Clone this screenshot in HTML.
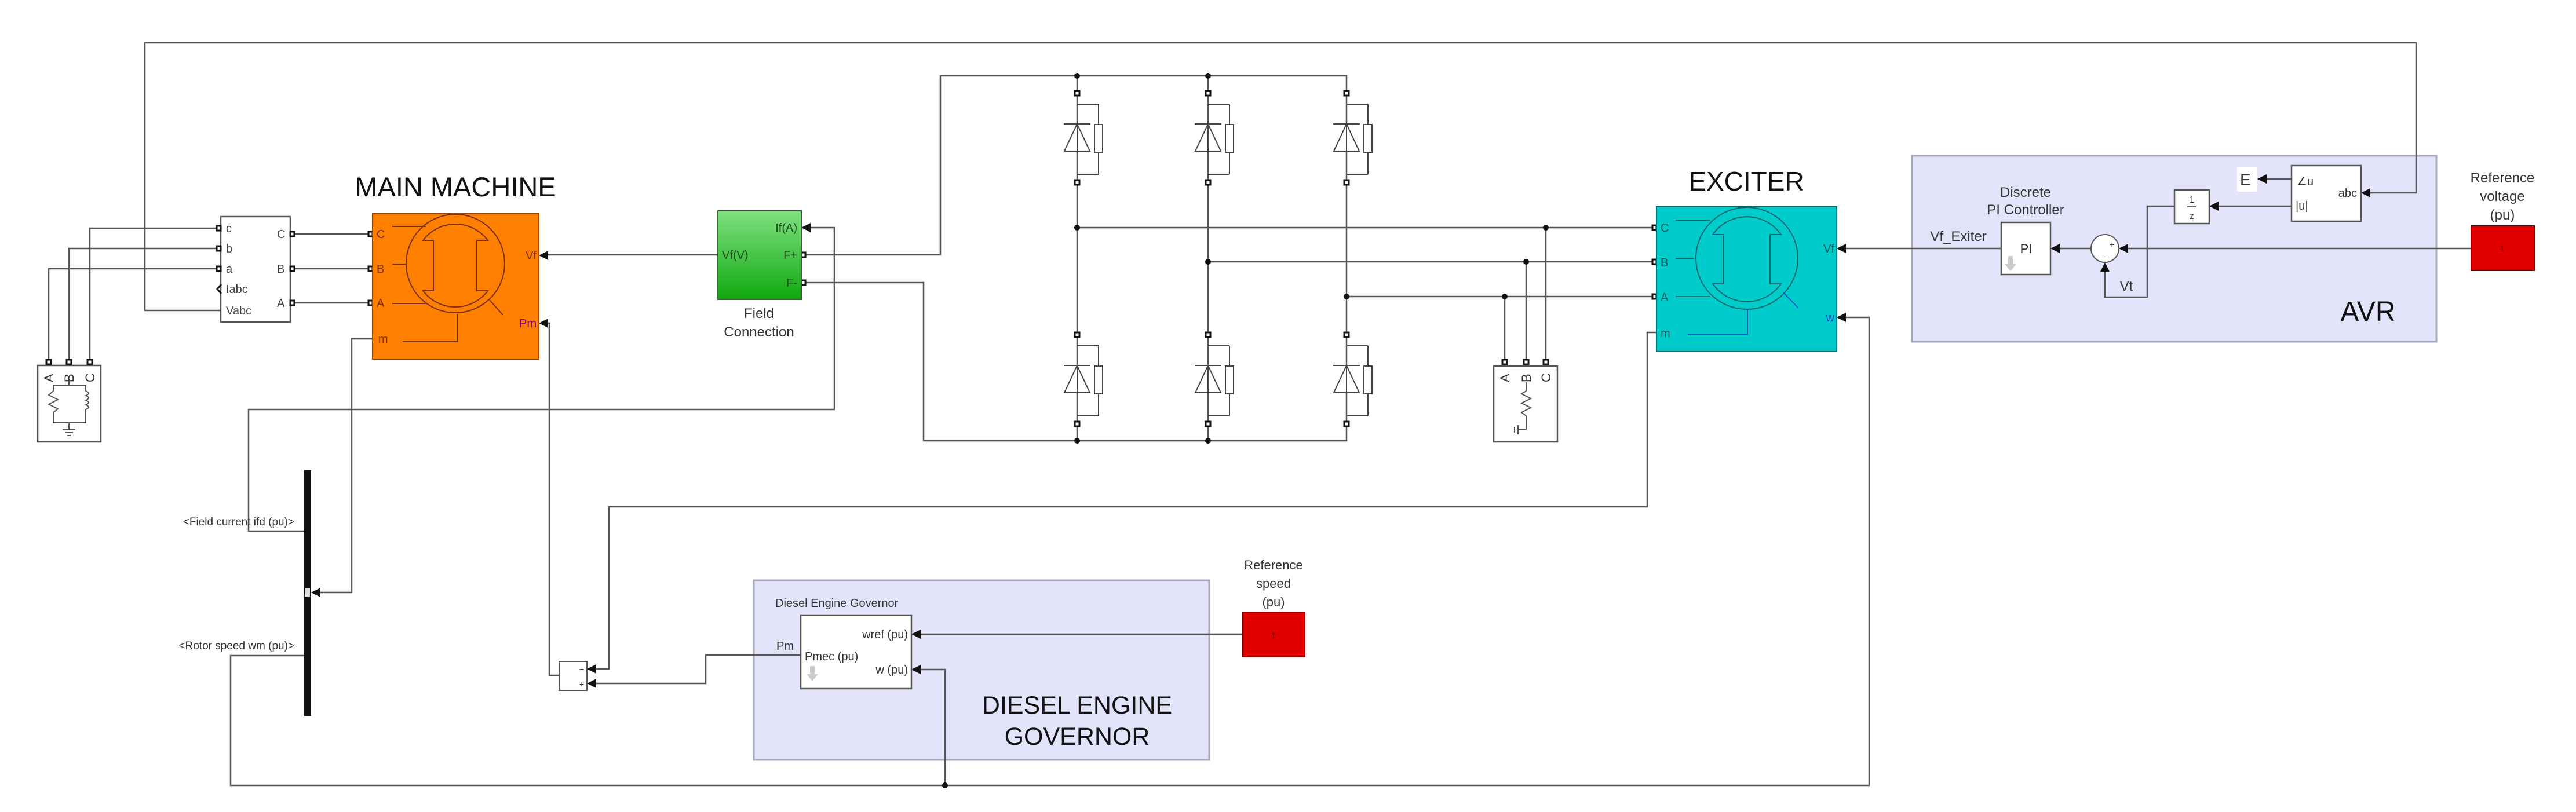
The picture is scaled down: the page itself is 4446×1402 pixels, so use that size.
<!DOCTYPE html>
<html><head><meta charset="utf-8"><style>
html,body{margin:0;padding:0;background:#fff;}
svg{display:block;font-family:"Liberation Sans",Arial,sans-serif;}
</style></head><body>
<svg width="4446" height="1402" viewBox="0 0 4446 1402" xmlns="http://www.w3.org/2000/svg">
<defs>
<marker id="ar" markerWidth="10" markerHeight="10" refX="9" refY="5" orient="auto" markerUnits="userSpaceOnUse"><path d="M0,0 L0,0"/></marker>
<g id="thy">
 <line x1="0" y1="19" x2="37" y2="19" stroke="#444" stroke-width="2"/>
 <line x1="37" y1="19" x2="37" y2="54" stroke="#444" stroke-width="2"/>
 <rect x="30" y="54" width="14" height="48" fill="#fff" stroke="#444" stroke-width="2"/>
 <line x1="37" y1="102" x2="37" y2="140" stroke="#444" stroke-width="2"/>
 <line x1="0" y1="140" x2="37" y2="140" stroke="#444" stroke-width="2"/>
 <polygon points="0,53 -22,100 22,100" fill="#fff" stroke="#444" stroke-width="2"/>
 <line x1="-23" y1="53" x2="23" y2="53" stroke="#444" stroke-width="2"/>
 <line x1="0" y1="53" x2="0" y2="100" stroke="#444" stroke-width="2"/>
 <rect x="-4" y="-4" width="8" height="8" fill="#fff" stroke="#111" stroke-width="3"/>
 <rect x="-4" y="150" width="8" height="8" fill="#fff" stroke="#111" stroke-width="3"/>
</g>
</defs>
<rect width="4446" height="1402" fill="#fff"/>

<!-- subsystem backgrounds -->
<rect x="3300" y="269" width="905" height="321" fill="#e3e3fa" stroke="#a8a8b8" stroke-width="3"/>
<rect x="1301" y="1002" width="786" height="310" fill="#e3e3fa" stroke="#a8a8b8" stroke-width="3"/>

<g fill="none" stroke="#555" stroke-width="2.5">
<!-- top wire -->
<polyline points="381,536 250,536 250,74 4170,74 4170,333 4080,333"/>
<!-- load to measurement -->
<polyline points="155,625 155,394 381,394"/>
<polyline points="119,625 119,429 381,429"/>
<polyline points="84,625 84,464 381,464"/>
<line x1="501" y1="404" x2="643" y2="404"/>
<line x1="501" y1="464" x2="643" y2="464"/>
<line x1="501" y1="523" x2="643" y2="523"/>
<!-- Vf -->
<line x1="1239" y1="440" x2="935" y2="440"/>
<!-- If -->
<polyline points="1388,393 1440,393 1440,707 429,707 429,917 525,917"/>
<!-- m main -->
<polyline points="643,585 607,585 607,1023 545,1023"/>
<!-- Pm -->
<polyline points="935,558 948,558 948,1166 965,1166"/>
<!-- rotor speed bottom -->
<polyline points="525,1132 398,1132 398,1356 3226,1356 3226,548 3175,548"/>
<!-- exciter m to sum - -->
<polyline points="2859,574 2843,574 2843,875 1051,875 1051,1155 1020,1155"/>
<!-- governor to sum + -->
<polyline points="1382,1131 1218,1131 1218,1180 1020,1180"/>
<!-- w governor -->
<polyline points="1631,1356 1631,1156 1580,1156"/>
<!-- ref speed -->
<line x1="2145" y1="1095" x2="1580" y2="1095"/>
<!-- F+ F- -->
<polyline points="1388,440 1623,440 1623,131 2324,131 2324,761 1594,761 1594,488 1388,488"/>
<line x1="1859" y1="131" x2="1859" y2="761"/>
<line x1="2085" y1="131" x2="2085" y2="761"/>
<!-- three-phase lines -->
<line x1="1859" y1="393" x2="2859" y2="393"/>
<line x1="2085" y1="452" x2="2859" y2="452"/>
<line x1="2324" y1="512" x2="2859" y2="512"/>
<line x1="2597" y1="512" x2="2597" y2="625"/>
<line x1="2634" y1="452" x2="2634" y2="625"/>
<line x1="2668" y1="393" x2="2668" y2="625"/>
<!-- AVR -->
<line x1="3454" y1="429" x2="3175" y2="429"/>
<line x1="3609" y1="429" x2="3545" y2="429"/>
<line x1="4265" y1="429" x2="3662" y2="429"/>
<polyline points="3753,356 3706,356 3706,513 3633,513 3633,460"/>
<line x1="3955" y1="356" x2="3820" y2="356"/>
<line x1="3955" y1="309" x2="3902" y2="309"/>
</g>

<!-- arrows -->
<g fill="#111">
<polygon points="930,441 946,433 946,449"/>
<polygon points="930,558 946,550 946,566"/>
<polygon points="1383,393 1399,385 1399,401"/>
<polygon points="537,1023 553,1015 553,1031"/>
<polygon points="1013,1155 1029,1147 1029,1163"/>
<polygon points="1013,1180 1029,1172 1029,1188"/>
<polygon points="1573,1095 1589,1087 1589,1103"/>
<polygon points="1573,1156 1589,1148 1589,1164"/>
<polygon points="3170,429 3186,421 3186,437"/>
<polygon points="3170,548 3186,540 3186,556"/>
<polygon points="3539,429 3555,421 3555,437"/>
<polygon points="3657,429 3673,421 3673,437"/>
<polygon points="3633,453 3625,469 3641,469"/>
<polygon points="3813,356 3829,348 3829,364"/>
<polygon points="3896,309 3912,301 3912,317"/>
<polygon points="4075,333 4091,325 4091,341"/>
</g>
<!-- dots -->
<g fill="#111">
<circle cx="1859" cy="131" r="5"/><circle cx="2085" cy="131" r="5"/>
<circle cx="1859" cy="761" r="5"/><circle cx="2085" cy="761" r="5"/>
<circle cx="1859" cy="393" r="5"/><circle cx="2085" cy="452" r="5"/><circle cx="2324" cy="512" r="5"/>
<circle cx="2597" cy="512" r="5"/><circle cx="2634" cy="452" r="5"/><circle cx="2668" cy="393" r="5"/>
<circle cx="1631" cy="1356" r="5"/>
</g>

<!-- thyristors -->
<use href="#thy" x="1859" y="161"/><use href="#thy" x="2085" y="161"/><use href="#thy" x="2324" y="161"/>
<use href="#thy" x="1859" y="578"/><use href="#thy" x="2085" y="578"/><use href="#thy" x="2324" y="578"/>

<!-- left load -->
<rect x="65" y="631" width="109" height="132" fill="#fff" stroke="#555" stroke-width="2.5"/>
<g fill="none" stroke="#555" stroke-width="2">
<polyline points="119,655 119,665 92,665 92,675 84,682 100,690 84,698 100,706 92,712 92,730 148,730 148,712"/>
<path d="M148,665 L148,675 q10,4 0,8 q10,4 0,8 q10,4 0,8 q10,4 0,8 L148,712"/>
<line x1="119" y1="665" x2="148" y2="665"/>
<line x1="119" y1="730" x2="119" y2="742"/><line x1="108" y1="742" x2="130" y2="742"/><line x1="112" y1="747" x2="126" y2="747"/><line x1="116" y1="752" x2="122" y2="752"/>
</g>
<g font-size="22" fill="#333">
<text transform="translate(92,660) rotate(-90)">A</text>
<text transform="translate(127,660) rotate(-90)">B</text>
<text transform="translate(163,660) rotate(-90)">C</text>
</g>
<g fill="#fff" stroke="#111" stroke-width="3">
<rect x="80" y="621" width="8" height="8"/><rect x="115" y="621" width="8" height="8"/><rect x="151" y="621" width="8" height="8"/>
</g>

<!-- right load -->
<rect x="2578" y="632" width="110" height="131" fill="#fff" stroke="#555" stroke-width="2.5"/>
<g fill="none" stroke="#555" stroke-width="2">
<polyline points="2634,660 2634,675 2626,680 2642,688 2626,696 2642,704 2626,712 2634,718 2634,742"/>
<line x1="2620" y1="742" x2="2634" y2="742"/><line x1="2620" y1="734" x2="2620" y2="750"/><line x1="2614" y1="737" x2="2614" y2="747"/>
</g>
<g font-size="22" fill="#333">
<text transform="translate(2605,660) rotate(-90)">A</text>
<text transform="translate(2642,660) rotate(-90)">B</text>
<text transform="translate(2676,660) rotate(-90)">C</text>
</g>
<g fill="#fff" stroke="#111" stroke-width="3">
<rect x="2593" y="621" width="8" height="8"/><rect x="2630" y="621" width="8" height="8"/><rect x="2664" y="621" width="8" height="8"/>
</g>

<!-- measurement block -->
<rect x="381" y="374" width="120" height="182" fill="#fff" stroke="#555" stroke-width="2.5"/>
<g font-size="20" fill="#444">
<text x="390" y="401">c</text><text x="390" y="436">b</text><text x="390" y="471">a</text>
<text x="390" y="506">Iabc</text><text x="390" y="543">Vabc</text>
<text x="478" y="411">C</text><text x="478" y="471">B</text><text x="478" y="530">A</text>
</g>
<polyline points="382,491 375,499 382,507" fill="none" stroke="#111" stroke-width="3"/>
<g fill="#fff" stroke="#111" stroke-width="3">
<rect x="374" y="390" width="7" height="8"/><rect x="374" y="425" width="7" height="8"/><rect x="374" y="460" width="7" height="8"/>
<rect x="501" y="400" width="7" height="8"/><rect x="501" y="460" width="7" height="8"/><rect x="501" y="519" width="7" height="8"/>
<rect x="636" y="400" width="7" height="8"/><rect x="636" y="460" width="7" height="8"/><rect x="636" y="519" width="7" height="8"/>
<rect x="2852" y="389" width="7" height="8"/><rect x="2852" y="448" width="7" height="8"/><rect x="2852" y="508" width="7" height="8"/>
<rect x="1383" y="436" width="7" height="8"/><rect x="1383" y="484" width="7" height="8"/>
</g>

<!-- MAIN MACHINE -->
<text x="786" y="339" font-size="47" text-anchor="middle" fill="#111">MAIN MACHINE</text>
<rect x="643" y="369" width="287" height="251" fill="#ff8000" stroke="#8a4a10" stroke-width="2"/>
<g fill="none" stroke="#7a3010" stroke-width="2">
<circle cx="786" cy="455" r="85"/>
<path d="M730,415 L748,415 L748,502 L730,502 A70,70 0 0 0 842,502 L823,502 L823,415 L842,415 A70,70 0 0 0 730,415 Z"/>
<line x1="677" y1="391" x2="735" y2="391"/><line x1="677" y1="456" x2="702" y2="456"/><line x1="677" y1="524" x2="735" y2="524"/>
<line x1="845" y1="518" x2="868" y2="544"/>
<polyline points="695,590 789,590 789,542"/>
</g>
<g font-size="20" fill="#7a3010">
<text x="650" y="411">C</text><text x="650" y="471">B</text><text x="650" y="530">A</text><text x="653" y="592">m</text>
<text x="926" y="448" text-anchor="end">Vf</text><text x="926" y="565" text-anchor="end" fill="#800080">Pm</text>
</g>

<!-- Field connection -->
<defs><linearGradient id="gg" x1="0" y1="0" x2="0" y2="1"><stop offset="0" stop-color="#80e080"/><stop offset="1" stop-color="#10a810"/></linearGradient></defs>
<rect x="1239" y="364" width="144" height="153" fill="url(#gg)" stroke="#2a6a2a" stroke-width="2"/>
<g font-size="20" fill="#1a4a1a">
<text x="1376" y="400" text-anchor="end">If(A)</text>
<text x="1376" y="447" text-anchor="end">F+</text>
<text x="1376" y="495" text-anchor="end">F-</text>
<text x="1246" y="447">Vf(V)</text>
</g>
<g font-size="24" fill="#333" text-anchor="middle"><text x="1310" y="549">Field</text><text x="1310" y="581">Connection</text></g>

<!-- Bus selector -->
<rect x="525" y="811" width="12" height="426" fill="#111"/>
<rect x="526" y="1016" width="9" height="14" fill="#ddd"/>
<g font-size="19" fill="#333" text-anchor="end">
<text x="508" y="907">&lt;Field current  ifd (pu)&gt;</text>
<text x="508" y="1121">&lt;Rotor speed  wm (pu)&gt;</text>
</g>

<!-- sum block -->
<rect x="965" y="1142" width="48" height="50" fill="#fff" stroke="#555" stroke-width="2"/>
<g font-size="14" fill="#333"><text x="1000" y="1160">−</text><text x="1000" y="1186">+</text></g>

<!-- governor -->
<text x="1338" y="1048" font-size="20" fill="#333">Diesel Engine Governor</text>
<rect x="1382" y="1062" width="191" height="127" fill="#fff" stroke="#555" stroke-width="2.5"/>
<g font-size="20" fill="#333">
<text x="1567" y="1102" text-anchor="end">wref (pu)</text>
<text x="1389" y="1140">Pmec (pu)</text>
<text x="1567" y="1163" text-anchor="end">w (pu)</text>
<text x="1340" y="1122">Pm</text>
</g>
<path d="M1398,1150 h8 v14 h6 l-10,12 l-10,-12 h6 z" fill="#ccc"/>
<g font-size="43" fill="#111" text-anchor="middle"><text x="1859" y="1232">DIESEL ENGINE</text><text x="1859" y="1286">GOVERNOR</text></g>
<rect x="2145" y="1057" width="107" height="77" fill="#e00000" stroke="#700" stroke-width="2"/>
<text x="2198" y="1102" font-size="14" fill="#600" text-anchor="middle">1</text>
<g font-size="22" fill="#333" text-anchor="middle"><text x="2198" y="983">Reference</text><text x="2198" y="1015">speed</text><text x="2198" y="1047">(pu)</text></g>

<!-- EXCITER -->
<text x="3014" y="329" font-size="46" text-anchor="middle" fill="#111">EXCITER</text>
<rect x="2859" y="357" width="311" height="250" fill="#00cccc" stroke="#0a6a6a" stroke-width="2"/>
<g fill="none" stroke="#0a6a70" stroke-width="2">
<circle cx="3015" cy="446" r="88"/>
<path d="M2956,405 L2975,405 L2975,490 L2956,490 A72,72 0 0 0 3074,490 L3055,490 L3055,405 L3074,405 A72,72 0 0 0 2956,405 Z"/>
<line x1="2892" y1="380" x2="2952" y2="380"/><line x1="2892" y1="446" x2="2924" y2="446"/><line x1="2892" y1="512" x2="2952" y2="512"/>
</g>
<g fill="none" stroke="#0060c0" stroke-width="2">
<line x1="3078" y1="505" x2="3104" y2="532"/>
<polyline points="2913,577 3016,577 3016,533"/>
</g>
<g font-size="20" fill="#0a5a5a">
<text x="2866" y="400">C</text><text x="2866" y="460">B</text><text x="2866" y="520">A</text><text x="2866" y="582">m</text>
<text x="3166" y="436" text-anchor="end">Vf</text><text x="3166" y="555" text-anchor="end" fill="#0050c0">w</text>
</g>

<!-- AVR contents -->
<g font-size="24" fill="#333" text-anchor="middle"><text x="3496" y="340">Discrete</text><text x="3496" y="370">PI Controller</text></g>
<text x="3380" y="416" font-size="24" fill="#333" text-anchor="middle">Vf_Exiter</text>
<rect x="3454" y="384" width="85" height="90" fill="#fff" stroke="#555" stroke-width="2.5"/>
<text x="3497" y="437" font-size="22" fill="#333" text-anchor="middle">PI</text>
<path d="M3466,442 h8 v14 h6 l-10,12 l-10,-12 h6 z" fill="#ccc"/>
<circle cx="3633" cy="429" r="24" fill="#fff" stroke="#555" stroke-width="2"/>
<g font-size="14" fill="#333"><text x="3641" y="427">+</text><text x="3627" y="448">−</text></g>
<text x="3670" y="502" font-size="24" fill="#333" text-anchor="middle">Vt</text>
<rect x="3753" y="328" width="60" height="58" fill="#fff" stroke="#555" stroke-width="2.5"/>
<g font-size="16" fill="#333" text-anchor="middle"><text x="3783" y="350">1</text><text x="3783" y="378">z</text></g>
<line x1="3775" y1="357" x2="3791" y2="357" stroke="#333" stroke-width="1.5"/>
<rect x="3955" y="286" width="120" height="96" fill="#fff" stroke="#555" stroke-width="2.5"/>
<g font-size="20" fill="#333"><text x="3964" y="320">∠u</text><text x="3962" y="362">|u|</text><text x="4068" y="340" text-anchor="end">abc</text></g>
<rect x="3861" y="288" width="35" height="43" fill="#fff"/>
<text x="3866" y="320" font-size="28" fill="#333">E</text>
<text x="4087" y="554" font-size="48" fill="#111" text-anchor="middle">AVR</text>
<rect x="4265" y="390" width="109" height="77" fill="#e00000" stroke="#700" stroke-width="2"/>
<text x="4319" y="434" font-size="14" fill="#600" text-anchor="middle">1</text>
<g font-size="24" fill="#333" text-anchor="middle"><text x="4319" y="315">Reference</text><text x="4319" y="347">voltage</text><text x="4319" y="379">(pu)</text></g>
</svg>
</body></html>
